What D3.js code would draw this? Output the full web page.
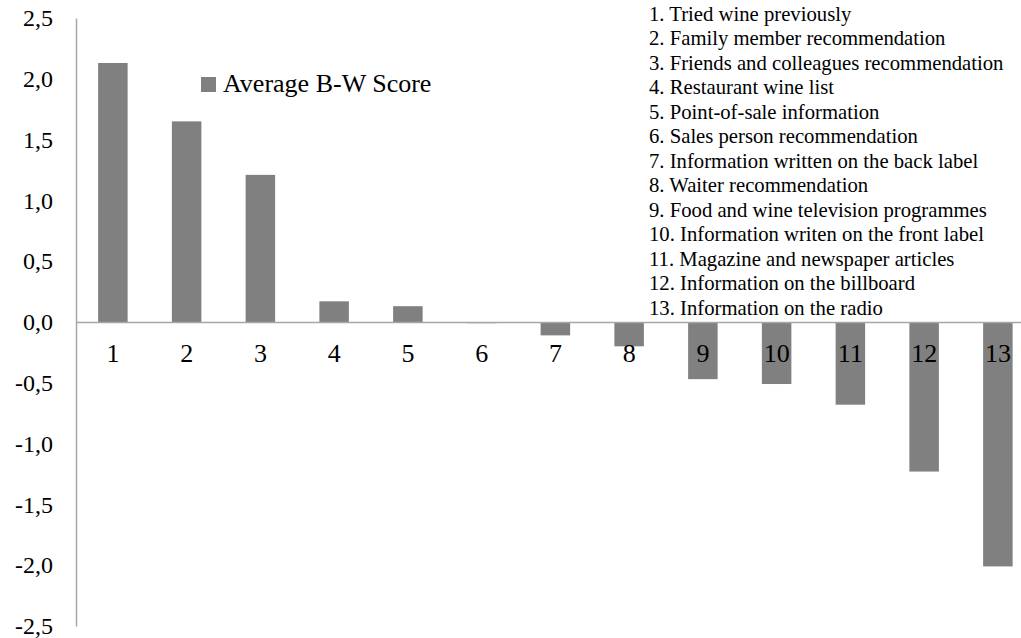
<!DOCTYPE html>
<html>
<head>
<meta charset="utf-8">
<script src="https://cdn.jsdelivr.net/npm/d3@7"></script>
<style>
  html, body { margin: 0; padding: 0; background: #fff; }
  svg { display: block; font-family: "Liberation Serif", "Times New Roman", Times, serif; }
</style>
</head>
<body>
<svg id="chart" width="1021" height="638"></svg>
<script>
const categories = ["1","2","3","4","5","6","7","8","9","10","11","12","13"];
const values = [2.13, 1.65, 1.21, 0.17, 0.13, -0.01, -0.11, -0.20, -0.47, -0.51, -0.68, -1.23, -2.01];
const yTicks = [2.5, 2.0, 1.5, 1.0, 0.5, 0.0, -0.5, -1.0, -1.5, -2.0, -2.5];
const seriesName = "Average B-W Score";
const descriptions = [
  "1. Tried wine previously",
  "2. Family member recommendation",
  "3. Friends and colleagues recommendation",
  "4. Restaurant wine list",
  "5. Point-of-sale information",
  "6. Sales person recommendation",
  "7. Information written on the back label",
  "8. Waiter recommendation",
  "9. Food and wine television programmes",
  "10. Information writen on the front label",
  "11. Magazine and newspaper articles",
  "12. Information on the billboard",
  "13. Information on the radio"
];

const FONT = "Liberation Serif, Times New Roman, Times, serif";
const svg = d3.select("#chart");
const axisX = 76;
const x = d3.scaleBand().domain(categories).range([axisX, axisX + 13 * 73.75]).paddingInner(0.6).paddingOuter(0.3);
const y = d3.scaleLinear().domain([-2.5, 2.5]).range([626, 18]);

const barColor = "#808080";
const axisColor = "#a6a6a6";

// bars
svg.append("g").selectAll("rect").data(values).join("rect")
  .attr("x", (d, i) => x(categories[i]))
  .attr("width", x.bandwidth())
  .attr("y", d => y(Math.max(0, d)))
  .attr("height", d => Math.abs(y(d) - y(0)))
  .attr("fill", barColor);

// y axis
const yAxis = d3.axisLeft(y).tickValues(yTicks).tickSize(0).tickPadding(23)
  .tickFormat(d => d3.format(".1f")(d).replace(".", ",").replace("−", "-"));
const gy = svg.append("g").attr("transform", `translate(${axisX},0)`).call(yAxis)
  .attr("font-family", FONT);
gy.select(".domain").attr("stroke", axisColor).attr("stroke-width", 1.5);
gy.selectAll("text").attr("font-size", 24).attr("fill", "#000");

// x axis at zero
const xAxis = d3.axisBottom(x).tickSize(0).tickPadding(0);
const gx = svg.append("g").attr("transform", `translate(0,${y(0)})`).call(xAxis)
  .attr("font-family", FONT);
gx.select(".domain").attr("stroke", axisColor).attr("stroke-width", 1.5);
gx.selectAll("text").attr("font-size", 26).attr("fill", "#000").attr("dy", null)
  .attr("y", 31).attr("dominant-baseline", "central");

// legend
const lg = svg.append("g").attr("font-family", FONT);
lg.append("rect").attr("x", 201).attr("y", 77).attr("width", 15).attr("height", 15).attr("fill", barColor);
lg.append("text").attr("x", 223).attr("y", 92).attr("font-size", 26).attr("fill", "#000").text(seriesName);

// description list
svg.append("g").attr("font-family", FONT).selectAll("text").data(descriptions).join("text")
  .attr("x", 649)
  .attr("y", (d, i) => 20.7 + i * 24.5)
  .attr("font-size", 20.7)
  .attr("fill", "#000")
  .text(d => d);
</script>
</body>
</html>
